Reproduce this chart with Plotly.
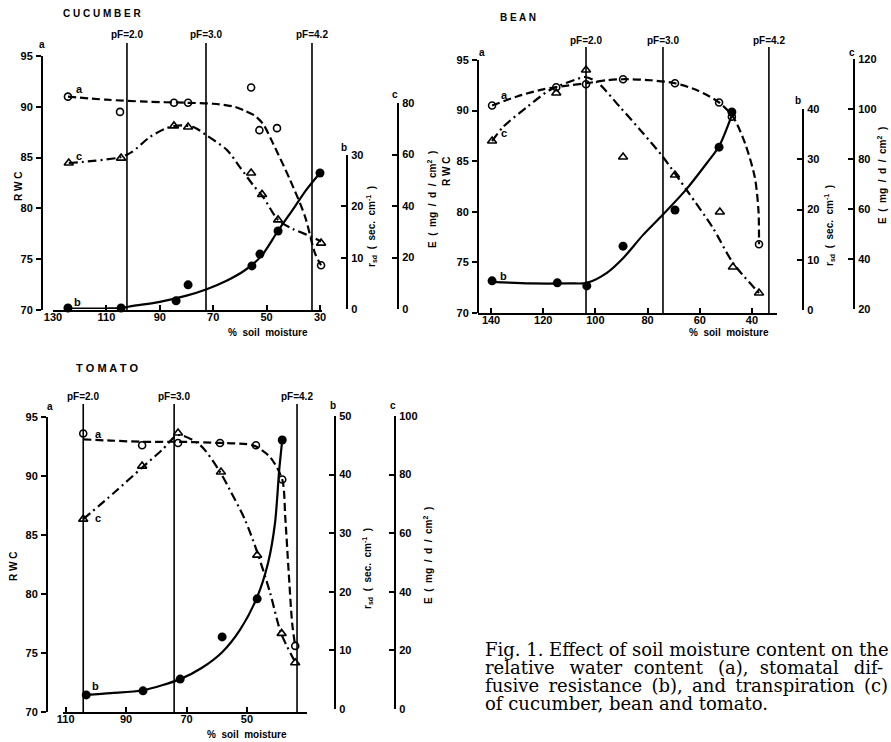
import plotly.graph_objects as go

W, H = 891, 742

# ---------------- DATA ----------------
# CUCUMBER
cu_a_x = [124.4, 104.9, 84.7, 79.4, 55.8, 52.7, 46.1, 29.6]
cu_a_y = [91.0, 89.5, 90.4, 90.4, 91.9, 87.7, 87.9, 74.4]
cu_c_x = [124.1, 104.5, 84.7, 79.4, 55.8, 51.7, 45.7, 29.6]
cu_c_y = [56.7, 58.6, 71.1, 70.7, 52.8, 44.5, 34.6, 25.6]
cu_b_x = [124.4, 104.5, 83.9, 79.4, 55.5, 52.5, 45.7, 30.0]
cu_b_y = [0.2, 0.2, 1.6, 4.7, 8.4, 10.7, 15.2, 26.5]
cu_a_fit_x = [124.4, 110, 95, 80, 70, 62, 58, 54.3, 51.3, 47.6, 41.2, 35.6, 31.9, 29.6]
cu_a_fit_y = [91.0, 90.7, 90.5, 90.4, 90.3, 90.0, 89.6, 89.1, 88.3, 86.4, 82.8, 79.2, 75.6, 74.4]
cu_c_fit_x = [124.1, 115, 104.5, 100.4, 93.7, 87.3, 82, 77, 72.7, 64.8, 60, 55.1, 51.3, 45.7, 40, 33, 29.6]
cu_c_fit_y = [56.7, 57.5, 59.0, 61.0, 66.8, 70.3, 71.3, 70.5, 67.6, 61.7, 55.1, 48.2, 43.5, 34.6, 31.0, 28.0, 26.2]
cu_b_fit_x = [124.4, 110, 104.5, 100, 90, 80, 72.7, 65, 58, 52, 46, 40, 35, 30]
cu_b_fit_y = [0.1, 0.1, 0.2, 0.6, 1.4, 2.6, 3.8, 5.5, 7.6, 10.3, 15.0, 19.5, 23.3, 26.5]
cu_pf_x = [102.3, 72.7, 33.0]

# BEAN
bn_a_x = [139.6, 115.0, 103.6, 89.4, 69.5, 52.6, 47.7, 37.3]
bn_a_y = [90.5, 92.3, 92.6, 93.1, 92.7, 90.8, 89.4, 76.8]
bn_c_x = [139.6, 115.0, 103.6, 89.4, 69.5, 52.3, 47.3, 37.3]
bn_c_y = [87.2, 106.4, 115.6, 80.8, 73.6, 58.8, 36.8, 26.4]
bn_b_x = [139.6, 114.6, 103.3, 89.4, 69.5, 52.6, 47.7]
bn_b_y = [5.8, 5.4, 4.8, 12.7, 19.9, 32.4, 39.4]
bn_a_fit_x = [139.6, 130, 120, 110, 103.6, 95.6, 89.4, 79, 69.5, 61, 52.6, 47.3, 42.7, 38.9, 37.5, 37.3]
bn_a_fit_y = [90.5, 91.4, 92.1, 92.5, 92.7, 93.0, 93.1, 93.0, 92.7, 92.0, 90.8, 89.4, 86.8, 83.4, 80.1, 76.8]
bn_c_fit_x = [139.6, 135.4, 126.2, 117.4, 107, 104, 99.4, 90.6, 81.8, 74.1, 64.5, 55, 47.3, 37.3]
bn_c_fit_y = [87.2, 92.8, 100.8, 107.6, 112.0, 112.8, 110.8, 100.8, 90.4, 80.8, 66.8, 52.5, 38.5, 26.4]
bn_b_fit_x = [139.6, 125, 110, 103.3, 95.6, 89.4, 81.8, 74.1, 65.5, 57.2, 52.6, 47.7]
bn_b_fit_y = [5.6, 5.3, 5.3, 5.4, 7.4, 10.3, 14.9, 19.0, 23.8, 29.3, 32.6, 38.8]
bn_pf_x = [103.6, 74.1, 33.5]

# TOMATO
tm_a_x = [104.2, 84.7, 72.8, 58.9, 47.0, 38.3, 34.0]
tm_a_y = [93.6, 92.6, 92.8, 92.8, 92.6, 89.7, 75.6]
tm_c_x = [104.2, 84.7, 72.8, 58.6, 46.6, 38.5, 34.0]
tm_c_y = [64.8, 82.9, 94.2, 80.9, 52.5, 25.8, 15.8]
tm_b_x = [103.2, 84.4, 72.1, 58.2, 46.6, 38.3]
tm_b_y = [2.4, 3.1, 5.1, 12.3, 18.8, 45.9]
tm_a_fit_x = [104.2, 95, 84.7, 72.8, 58.9, 50, 47, 42.3, 38.3, 37.3, 36.2, 35, 34]
tm_a_fit_y = [93.1, 93.0, 92.9, 92.9, 92.8, 92.7, 92.5, 91.6, 89.7, 86.5, 82.0, 77.5, 75.6]
tm_c_fit_x = [104.2, 94, 84.7, 78, 72.8, 65.5, 58.9, 55.6, 50.6, 46.6, 42.3, 38.7, 34]
tm_c_fit_y = [64.8, 73.8, 82.4, 88.5, 93.5, 90.1, 80.9, 74.7, 64.5, 53.6, 39.6, 25.9, 16.0]
tm_b_fit_x = [103.2, 95, 84.4, 72.1, 65, 58.2, 52.3, 46.6, 43, 40.7, 39.3, 38.3]
tm_b_fit_y = [2.4, 2.7, 3.2, 5.1, 7.0, 9.7, 13.5, 19.1, 24.9, 31.7, 40.8, 45.9]
tm_pf_x = [104.2, 74.1, 33.4]

pf_labels = ["pF=2.0", "pF=3.0", "pF=4.2"]
cu_xticks = [130, 110, 90, 70, 50, 30]
bn_xticks = [140, 120, 100, 80, 60, 40]
tm_xticks = [110, 90, 70, 50, 30]
rwc_ticks = [70, 75, 80, 85, 90, 95]
cu_b_ticks = [0, 10, 20, 30]
cu_c_ticks = [0, 20, 40, 60, 80]
bn_b_ticks = [0, 10, 20, 30, 40]
bn_c_ticks = [20, 40, 60, 80, 100, 120]
tm_b_ticks = [0, 10, 20, 30, 40, 50]
tm_c_ticks = [0, 20, 40, 60, 80, 100]

NB = "\u00a0"
TS = "\u2009"
caption = ["Fig. 1. Effect of soil moisture content on the",
           "relative" + NB * 2 + TS + "water" + NB * 2 + "content" + NB * 2 + TS + "(a),"
           + NB * 2 + "stomatal" + NB * 2 + TS + "dif-",
           (NB + TS).join(["fusive", "resistance", "(b),", "and", "transpiration", "(c)"]),
           "of cucumber, bean and tomato."]

# ---------------- HELPERS ----------------
FONT = "Liberation Sans"
TF = dict(family=FONT, size=11, color="black", weight="bold")


def px(x):
    return x / W


def py(y):
    return 1 - y / H


def xax(x0, x1, rng, tv, anchor):
    return dict(domain=[px(x0), px(x1)], range=rng, anchor=anchor, showline=True,
                linewidth=2, linecolor="black", ticks="inside", ticklen=5, tickwidth=2,
                tickcolor="black", tickvals=tv, tickfont=TF, showgrid=False,
                zeroline=False, ticklabelstandoff=-4, automargin=False)


def yax(top, bottom, rng, tv, pos, side):
    return dict(domain=[py(bottom), py(top)], range=rng, anchor="free", position=px(pos),
                side=side, showline=True, linewidth=2, linecolor="black",
                ticks="outside" if side == "left" else "inside", ticklen=5, tickwidth=2,
                tickcolor="black", tickvals=tv, tickfont=TF, showgrid=False,
                zeroline=False, ticklabelstandoff=1, automargin=False)


fig = go.Figure()


def add_series(xa, ya, fx, fy, mx, my, kind):
    if kind == "a":
        line = dict(color="black", width=2.2, dash="8px,4px", shape="spline", smoothing=0.8)
        marker = dict(symbol="circle-open", size=7, color="black", line=dict(width=1.6))
    elif kind == "c":
        line = dict(color="black", width=2.2, dash="9px,4px,2px,4px", shape="spline", smoothing=0.8)
        marker = dict(symbol="triangle-up-open", size=8, color="black", line=dict(width=1.6))
    else:
        line = dict(color="black", width=2.2, shape="spline", smoothing=0.8)
        marker = dict(symbol="circle", size=9, color="black")
    fig.add_trace(go.Scatter(x=fx, y=fy, mode="lines", line=line, xaxis=xa, yaxis=ya,
                             cliponaxis=False, hoverinfo="skip"))
    fig.add_trace(go.Scatter(x=mx, y=my, mode="markers", marker=marker, xaxis=xa, yaxis=ya,
                             cliponaxis=False))


# Cucumber
add_series("x", "y", cu_a_fit_x, cu_a_fit_y, cu_a_x, cu_a_y, "a")
add_series("x", "y2", cu_b_fit_x, cu_b_fit_y, cu_b_x, cu_b_y, "b")
add_series("x", "y3", cu_c_fit_x, cu_c_fit_y, cu_c_x, cu_c_y, "c")
# Bean
add_series("x2", "y4", bn_a_fit_x, bn_a_fit_y, bn_a_x, bn_a_y, "a")
add_series("x2", "y5", bn_b_fit_x, bn_b_fit_y, bn_b_x, bn_b_y, "b")
add_series("x2", "y6", bn_c_fit_x, bn_c_fit_y, bn_c_x, bn_c_y, "c")
# Tomato
add_series("x3", "y7", tm_a_fit_x, tm_a_fit_y, tm_a_x, tm_a_y, "a")
add_series("x3", "y8", tm_b_fit_x, tm_b_fit_y, tm_b_x, tm_b_y, "b")
add_series("x3", "y9", tm_c_fit_x, tm_c_fit_y, tm_c_x, tm_c_y, "c")

fig.update_layout(
    width=W, height=H, margin=dict(l=0, r=0, t=0, b=0, autoexpand=False),
    paper_bgcolor="white", plot_bgcolor="rgba(0,0,0,0)", showlegend=False,
    xaxis=xax(53, 322, [130, 29.25], cu_xticks, "y"),
    yaxis=yax(56, 310, [70, 95], rwc_ticks, 42, "left"),
    yaxis2=yax(155, 309, [0, 30], cu_b_ticks, 347, "right"),
    yaxis3=yax(103, 309, [0, 80], cu_c_ticks, 398, "right"),
    xaxis2=xax(478, 777, [145, 30.4], bn_xticks, "y4"),
    yaxis4=yax(60, 313, [70, 95], rwc_ticks, 478, "left"),
    yaxis5=yax(109, 310, [0, 40], bn_b_ticks, 803, "right"),
    yaxis6=yax(59, 309, [20, 120], bn_c_ticks, 854, "right"),
    xaxis3=xax(63, 307, [110.9, 30.1], tm_xticks, "y7"),
    yaxis7=yax(417, 712, [70, 95], rwc_ticks, 47, "left"),
    yaxis8=yax(416, 709, [0, 50], tm_b_ticks, 335, "right"),
    yaxis9=yax(416, 709, [0, 100], tm_c_ticks, 395, "right"),
)

shapes = []
ann = []


def T(x, y, text, size=11, angle=0, bold=True, family=FONT, xanchor="center"):
    ann.append(dict(x=px(x), y=py(y), xref="paper", yref="paper", text=text, showarrow=False,
                    textangle=angle, xanchor=xanchor, yanchor="middle",
                    font=dict(family=family, size=size, color="black",
                              weight="bold" if bold else "normal")))


# pF lines
for xr, vals, top, bot, lab_y in [("x", cu_pf_x, 43, 310, 35), ("x2", bn_pf_x, 47, 313, 40),
                                  ("x3", tm_pf_x, 404, 712, 396)]:
    for v, lab in zip(vals, pf_labels):
        shapes.append(dict(type="line", xref=xr, yref="paper", x0=v, x1=v, y0=py(bot), y1=py(top),
                           line=dict(color="black", width=1.6)))
        ann.append(dict(x=v, y=py(lab_y), xref=xr, yref="paper", text=lab, showarrow=False,
                        xanchor="center", yanchor="middle",
                        font=dict(family=FONT, size=10, color="black", weight="bold")))

# Titles
T(102, 13, "C U C U M B E R", size=10)
T(518, 17, "B E A N", size=10)
T(107, 368, "T O M A T O", size=11)

# Axis titles
for x, y in [(268, 332), (729, 332), (247, 734)]:
    T(x, y, "%  soil  moisture", size=10)
for x, y in [(18, 187), (446, 172), (13, 567)]:
    T(x, y, "R W C", size=10, angle=-90)
for x, y in [(372, 227), (830, 226), (367, 569)]:
    T(x, y, "r<sub>sd</sub>  (  sec.  cm<sup>-1</sup>  )", size=10, angle=-90)
for x, y in [(432, 200), (882, 176), (428, 556)]:
    T(x, y, "E  (  mg  /  d  /  cm<sup>2</sup>  )", size=10, angle=-90)

# axis letters
for x, y, t in [(42, 44, "a"), (344, 147, "b"), (395, 95, "c"),
                (482, 53, "a"), (798, 100, "b"), (852, 52, "c"),
                (50, 406, "a"), (333, 405, "b"), (393, 405, "c")]:
    T(x, y, t, size=10)
# curve letters
for x, y, t in [(79, 89, "a"), (79, 156, "c"), (77, 302, "b"),
                (504, 95, "a"), (504, 133, "c"), (503, 276, "b"),
                (98, 434, "a"), (98, 518, "c"), (95, 686, "b")]:
    T(x, y, t, size=11)

# caption
for i, line in enumerate(caption):
    T(483, 649 + i * 18, line, size=18, bold=False, family="DejaVu Serif", xanchor="left")

fig.update_layout(shapes=shapes, annotations=ann)
fig.write_html("out.html", config={"displayModeBar": False},
               post_script="document.body.style.margin='0';")
